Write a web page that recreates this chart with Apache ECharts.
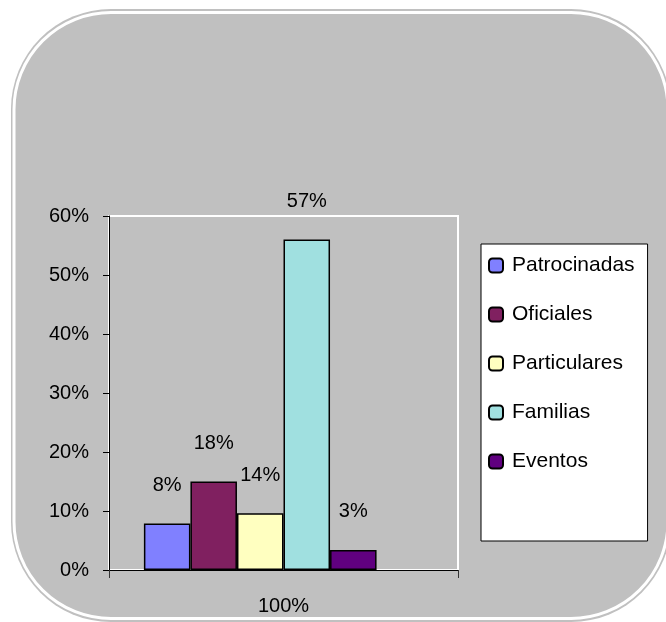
<!DOCTYPE html>
<html>
<head>
<meta charset="utf-8">
<script src="https://cdn.jsdelivr.net/npm/echarts@6/dist/echarts.min.js"></script>
<style>
    html, body { margin: 0; padding: 0; background: #fff; }
    #chart { width: 666px; height: 622px; }
</style>
</head>
<body>
<div id="chart"></div>
<script>
    // categoria del eje x
    const categories = ['100%'];
    // series (la sexta va vacía, como en el original)
    const seriesNames = ['Patrocinadas', 'Oficiales', 'Particulares', 'Familias', 'Eventos', ''];
    const seriesValues = [7.9, 15, 9.6, 56, 3.4, '-'];
    const seriesLabels = ['8%', '18%', '14%', '57%', '3%', ''];
    const seriesColors = ['#8080ff', '#802060', '#ffffc0', '#a0e0e0', '#600080', '#c0c0c0'];
    const yTicks = { min: 0, max: 60, interval: 10 };

    const font = 'Liberation Sans, Arial, sans-serif';

    const series = seriesNames.map((name, i) => ({
        name: name,
        type: 'bar',
        data: [seriesValues[i]],
        barGap: 0,
        barCategoryGap: '20%',
        itemStyle: {
            color: seriesColors[i],
            borderColor: '#000',
            borderWidth: 1.5
        },
        label: {
            show: true,
            position: 'top',
            distance: 28,
            fontFamily: font,
            fontSize: 20,
            color: '#000',
            formatter: () => seriesLabels[i]
        }
    }));

    const option = {
        animation: false,
        graphic: [
            {
                type: 'rect',
                z: -10,
                shape: { x: 11, y: 9, width: 660, height: 613, r: 100 },
                style: { fill: '#c0c0c0' }
            },
            {
                type: 'rect',
                z: -9,
                shape: { x: 14, y: 12.5, width: 654, height: 606, r: 97 },
                style: { fill: '#c0c0c0', stroke: '#fff', lineWidth: 3 }
            }
        ],
        grid: {
            left: 109,
            top: 216,
            right: 208,
            bottom: 52,
            show: true,
            borderColor: '#fff',
            borderWidth: 2,
            backgroundColor: 'transparent'
        },
        legend: {
            orient: 'vertical',
            left: 481,
            top: 244,
            data: seriesNames.slice(0, 5),
            backgroundColor: '#fff',
            borderColor: '#000',
            borderWidth: 1,
            padding: [11, 13, 69, 7],
            itemWidth: 14,
            itemHeight: 14,
            itemGap: 28,
            textStyle: {
                fontFamily: font,
                fontSize: 21,
                color: '#000',
                padding: [0, 0, 0, 4]
            }
        },
        xAxis: {
            type: 'category',
            data: categories,
            axisLine: { lineStyle: { color: '#000', width: 1 } },
            axisTick: { show: true, length: 8, lineStyle: { color: '#333' } },
            axisLabel: { fontFamily: font, fontSize: 20, color: '#000', margin: 26 }
        },
        yAxis: {
            type: 'value',
            min: yTicks.min,
            max: yTicks.max,
            interval: yTicks.interval,
            axisLine: { show: true, lineStyle: { color: '#000', width: 1 } },
            axisTick: { show: true, length: 6, lineStyle: { color: '#000' } },
            splitLine: { show: false },
            axisLabel: {
                fontFamily: font,
                fontSize: 20,
                color: '#000',
                margin: 20,
                padding: [0, 0, 9, 0],
                formatter: '{value}%'
            }
        },
        series: series
    };

    let myChart = echarts.init(document.getElementById('chart'));
    myChart.setOption(option);
</script>
</body>
</html>
